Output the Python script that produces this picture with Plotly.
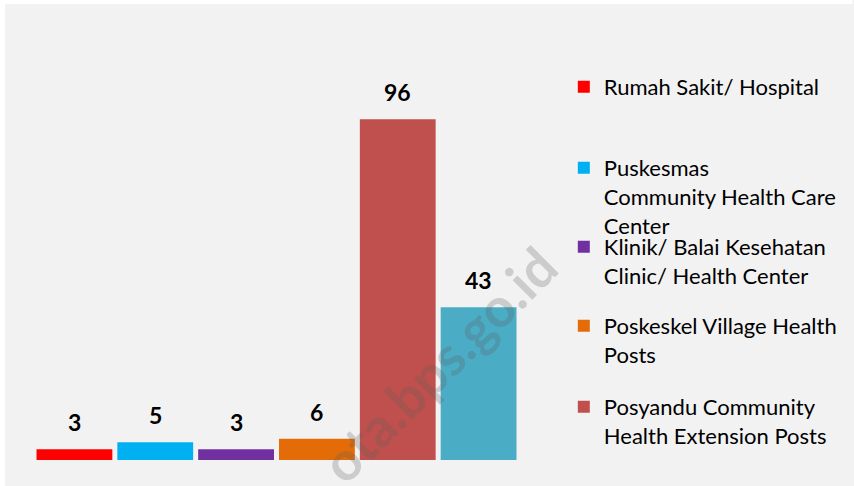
import plotly.graph_objects as go

categories = ["Rumah Sakit", "Puskesmas", "Klinik", "Poskeskel", "Posyandu", "Lainnya"]
legend_names = [
    "Rumah Sakit/ Hospital",
    "Puskesmas<br>Community Health Care<br>Center",
    "Klinik/ Balai Kesehatan<br>Clinic/ Health Center",
    "Poskeskel Village Health<br>Posts",
    "Posyandu Community<br>Health Extension Posts",
    "",
]
values = [3, 5, 3, 6, 96, 43]
colors = ["#ff0000", "#00b0f0", "#7030a0", "#e36c09", "#c0504d", "#4bacc6"]
show_in_legend = [True, True, True, True, True, False]

W, H = 854, 486
L, R, T, B = 34, 333, 34, 26
pw, ph = W - L - R, H - T - B

def px_x(p):
    return (p - L) / pw

def px_y(p):
    return (H - B - p) / ph

FONT = "Lato, Open Sans, sans-serif"

fig = go.Figure()
legend_ids = ["legend", "legend2", "legend3", "legend4", "legend5"]
li = 0
for cat, name, v, c, sl in zip(categories, legend_names, values, colors, show_in_legend):
    kw = {}
    if sl:
        kw["legend"] = legend_ids[li]
        li += 1
    fig.add_trace(go.Bar(x=[cat], y=[v], name=name, marker_color=c,
                         marker_line_width=0, showlegend=sl, hoverinfo="skip", **kw))

for cat, v in zip(categories, values):
    fig.add_annotation(x=cat, y=v, text=f"<b>{v}</b>", showarrow=False,
                       yshift=27, yanchor="middle",
                       font=dict(family=FONT, size=23, color="#000000"))

# watermark
fig.add_annotation(xref="paper", yref="paper", x=px_x(440), y=px_y(364),
                   xanchor="center", yanchor="middle",
                   text="<b>ota.bps.go.id</b>", textangle=-45, showarrow=False,
                   font=dict(family=FONT, size=54, color="rgba(90,90,90,0.25)"))

legend_tops = [66, 147, 226, 305, 386]
leg_layout = {}
for lid, top in zip(legend_ids, legend_tops):
    leg_layout[lid] = dict(x=px_x(566), y=px_y(top), xanchor="left", yanchor="top",
                           bgcolor="rgba(0,0,0,0)", valign="top",
                           font=dict(family=FONT, size=22, color="#000000"),
                           itemclick=False, itemdoubleclick=False)

fig.update_layout(
    width=W, height=H,
    margin=dict(l=L, r=R, t=T, b=B),
    paper_bgcolor="#f2f2f2",
    plot_bgcolor="#f2f2f2",
    barmode="overlay",
    bargap=0.062,
    hovermode=False,
    xaxis=dict(visible=False, categoryorder="array", categoryarray=categories),
    yaxis=dict(visible=False, range=[0, 120]),
    shapes=[
        dict(type="rect", xref="paper", yref="paper", x0=px_x(-2), x1=px_x(W + 2),
             y0=px_y(4), y1=px_y(-2), fillcolor="#ffffff", line_width=0, layer="above"),
        dict(type="rect", xref="paper", yref="paper", x0=px_x(-2), x1=px_x(5),
             y0=px_y(H + 2), y1=px_y(-2), fillcolor="#ffffff", line_width=0, layer="above"),
    ],
    **leg_layout,
)

fig.write_html("out.html", config={"displayModeBar": False, "staticPlot": True},
               post_script="document.body.style.margin='0px';document.body.style.overflow='hidden';")
